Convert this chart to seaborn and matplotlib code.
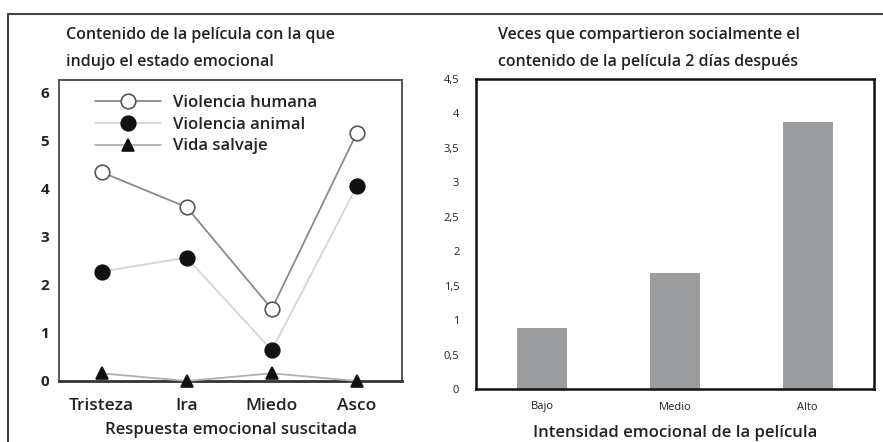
import matplotlib
matplotlib.use("Agg")
import matplotlib.pyplot as plt
import seaborn as sns
import pandas as pd
from matplotlib.lines import Line2D

# datos
respuestas = ["Tristeza", "Ira", "Miedo", "Asco"]
violencia_humana = [4.35, 3.62, 1.50, 5.17]
violencia_animal = [2.28, 2.57, 0.64, 4.06]
vida_salvaje = [0.16, 0.00, 0.16, 0.00]

intensidad = ["Bajo", "Medio", "Alto"]
compartidos = [0.88, 1.68, 3.88]
y_ticks_der = [0, 0.5, 1, 1.5, 2, 2.5, 3, 3.5, 4, 4.5]

sns.set_style("white")
plt.rcParams["font.family"] = ["Open Sans", "DejaVu Sans"]
SB = "semibold"

fig = plt.figure(figsize=(8.83, 4.42), dpi=100)
W, H = 883, 442
ax1 = fig.add_axes([59 / W, 1 - 381 / H, 343 / W, 301 / H])
ax2 = fig.add_axes([476 / W, 1 - 389 / H, 398 / W, 310 / H])

# marco exterior
fig.add_artist(Line2D([8 / W, 1], [1 - 14 / H, 1 - 14 / H], color="#444444", lw=1.5))
fig.add_artist(Line2D([8 / W, 8 / W], [0, 1 - 14 / H], color="#444444", lw=1.5))

# panel izquierdo
series = [
    ("Violencia humana", violencia_humana, "#8a8a8a", "o", "white"),
    ("Violencia animal", violencia_animal, "#d4d4d4", "o", "#111111"),
    ("Vida salvaje", vida_salvaje, "#b0b0b0", "^", "#111111"),
]
for nombre, vals, col, mk, fc in series:
    df = pd.DataFrame({"respuesta": respuestas, "valor": vals})
    sns.lineplot(data=df, x="respuesta", y="valor", ax=ax1, color=col, lw=1.3,
                 marker=mk, markersize=10.5 if mk == "o" else 8,
                 markerfacecolor=fc, markeredgecolor="#555555" if fc == "white" else "#111111",
                 markeredgewidth=1.2, label=nombre, clip_on=False, zorder=3)

ax1.set_xlim(-0.5, 3.53)
ax1.set_ylim(0, 6.27)
ax1.set_yticks(range(7))
ax1.set_yticklabels([str(i) for i in range(7)], fontsize=11, fontweight="bold", color="#222222")
ax1.set_xticks(range(4))
ax1.set_xticklabels(respuestas, fontsize=12.5, fontweight=SB, color="#222222")
ax1.tick_params(axis="both", length=0, pad=7)
ax1.tick_params(axis="x", pad=12)
ax1.set_xlabel("Respuesta emocional suscitada", fontsize=12, fontweight=SB, color="#222222", labelpad=6)
ax1.set_ylabel("")
for s in ax1.spines.values():
    s.set_color("#555555")
    s.set_linewidth(1.4)
ax1.spines["bottom"].set_color("#333333")
ax1.spines["bottom"].set_linewidth(2)
leg = ax1.legend(loc="upper left", bbox_to_anchor=(0.07, 0.99), frameon=False,
                 prop={"size": 12, "weight": SB},
                 handlelength=4.0, handletextpad=0.7, labelspacing=0.35, borderaxespad=0.3)
for t in leg.get_texts():
    t.set_color("#222222")
fig.text(66 / W, 1 - 35 / H, "Contenido de la película con la que", fontsize=11.5,
         fontweight=SB, color="#222222", va="center")
fig.text(66 / W, 1 - 62 / H, "indujo el estado emocional", fontsize=11.5,
         fontweight=SB, color="#222222", va="center")

# panel derecho
dfb = pd.DataFrame({"intensidad": intensidad, "veces": compartidos})
sns.barplot(data=dfb, x="intensidad", y="veces", ax=ax2, color="#9b9c9e",
            saturation=1, width=0.375, edgecolor="none")
ax2.set_xlim(-0.5, 2.5)
ax2.set_ylim(0, 4.5)
ax2.set_yticks(y_ticks_der)
ax2.set_yticklabels([f"{v:g}".replace(".", ",") for v in y_ticks_der], fontsize=8, color="#222222")
ax2.set_xticks(range(3))
ax2.set_xticklabels(intensidad, fontsize=8, color="#222222")
ax2.tick_params(axis="both", length=0)
ax2.tick_params(axis="y", pad=12)
ax2.tick_params(axis="x", pad=9)
ax2.set_xlabel("Intensidad emocional de la película", fontsize=12, fontweight=SB,
               color="#222222", labelpad=9)
ax2.set_ylabel("")
for s in ax2.spines.values():
    s.set_color("#111111")
    s.set_linewidth(1.8)
fig.text(498 / W, 1 - 35 / H, "Veces que compartieron socialmente el", fontsize=11.5,
         fontweight=SB, color="#222222", va="center")
fig.text(498 / W, 1 - 62 / H, "contenido de la película 2 días después", fontsize=11.5,
         fontweight=SB, color="#222222", va="center")

fig.savefig("out.png", dpi=100)
